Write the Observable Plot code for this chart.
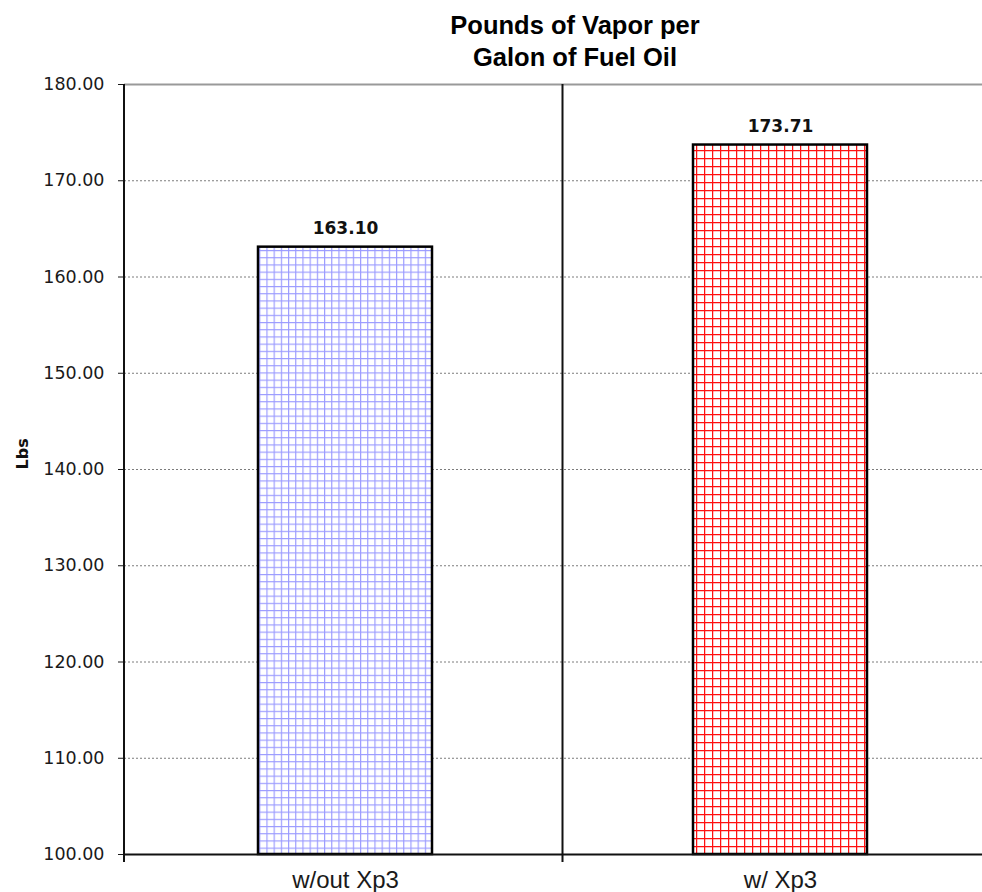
<!DOCTYPE html>
<html><head><meta charset="utf-8">
<script src="https://cdn.jsdelivr.net/npm/d3@7"></script>
<script src="https://cdn.jsdelivr.net/npm/@observablehq/plot@0.6"></script>
<style>
body{margin:0;background:#fff;}
#title{height:70px;box-sizing:border-box;padding:9px 0 0 168px;width:982px;text-align:center;font:bold 25.5px "Liberation Sans",Arial,sans-serif;line-height:32px;color:#000;}
#chart svg{display:block;}
</style></head><body>
<div id="title">Pounds of Vapor per<br>Galon of Fuel Oil</div>
<div id="chart"></div>
<script>
const categories = ["w/out Xp3", "w/ Xp3"];
const values = [163.10, 173.71];
const yTicks = [100, 110, 120, 130, 140, 150, 160, 170, 180];
const yDomain = [100, 180];
const patterns = ["url(#gridBlue)", "url(#gridRed)"];
const data = categories.map((c, i) => ({cat: c, value: values[i], pattern: patterns[i]}));

function defsMark() {
  const defs = d3.create("svg:defs");
  const mk = (id, size, color, w) => {
    const p = defs.append("pattern").attr("id", id).attr("patternUnits", "userSpaceOnUse")
      .attr("width", size).attr("height", size);
    p.append("rect").attr("width", size).attr("height", size).attr("fill", "#fff");
    p.append("path").attr("d", `M0 0.5H${size}M0.5 0V${size}`).attr("stroke", color).attr("stroke-width", w).attr("fill", "none");
  };
  mk("gridBlue", 7.2, "#9a9aff", 1.3);
  mk("gridRed", 8, "#ff1010", 1.5);
  return defs.node();
}

const plot = Plot.plot({
  width: 982, height: 822,
  marginLeft: 124, marginRight: 0, marginTop: 14, marginBottom: 38,
  style: {background: "white", overflow: "visible", fontFamily: "DejaVu Sans", color: "#1a1a1a"},
  x: {domain: categories, range: [127, 997], paddingInner: 0.6, paddingOuter: 0.3, label: null},
  y: {domain: yDomain, label: null},
  color: {type: "identity"},
  marks: [
    defsMark,
    Plot.ruleY(yTicks.slice(1, -1), {stroke: "#7c7c7c", strokeWidth: 1, strokeDasharray: "2,2"}),
    Plot.ruleY([yDomain[1]], {stroke: "#999", strokeWidth: 2}),
    Plot.barY(data, {x: "cat", y1: () => yDomain[0], y2: "value", fill: "pattern", stroke: "#000", strokeWidth: 2.5}),
    Plot.ruleY([yDomain[0]], {stroke: "#111", strokeWidth: 2}),
    Plot.axisY({ticks: yTicks, tickFormat: d => d.toFixed(2), tickSize: 6, tickPadding: 14, fontSize: 17.5, label: null}),
    Plot.axisX({tickSize: 0, tickPadding: 16, fontSize: 24, fontFamily: "Liberation Sans, Arial, sans-serif", label: null}),
    Plot.text(data, {x: "cat", y: "value", text: d => d.value.toFixed(2), dy: -13, lineAnchor: "bottom", fontWeight: "bold", fontSize: 17, fill: "#111"}),
    Plot.text(["Lbs"], {frameAnchor: "left", text: d => d, dx: -102, rotate: -90, fontWeight: "bold", fontSize: 16, fill: "#111"})
  ]
});

const svgSel = d3.select(plot);
const xs = plot.scale("x"), ys = plot.scale("y");
const yTopPx = ys.apply(yDomain[1]), yBottomPx = ys.apply(yDomain[0]);
const dividerPx = (xs.apply(categories[0]) + xs.bandwidth + xs.apply(categories[1])) / 2;
[124, dividerPx].forEach(x => {
  svgSel.append("line").attr("x1", x).attr("x2", x).attr("y1", yTopPx).attr("y2", yBottomPx + 8)
    .attr("stroke", "#111").attr("stroke-width", 2);
});
document.getElementById("chart").appendChild(plot);
</script>
</body></html>
